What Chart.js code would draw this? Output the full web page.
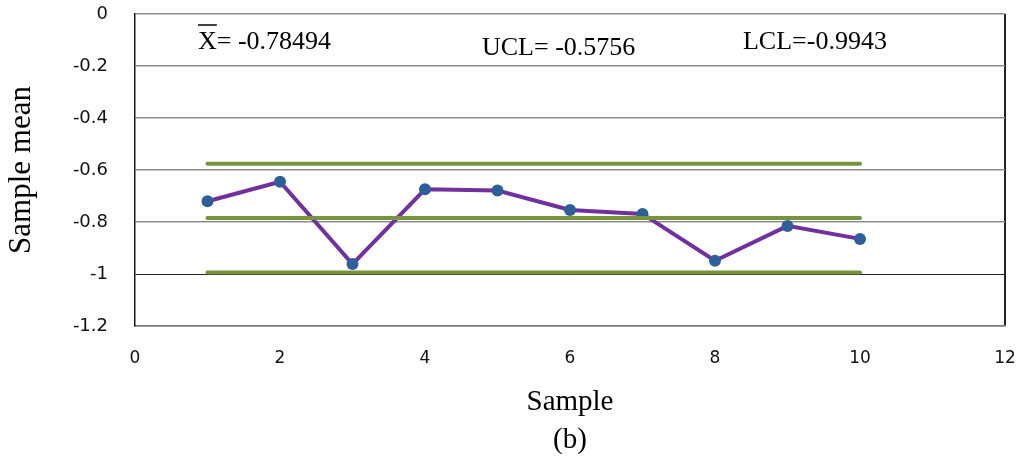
<!DOCTYPE html>
<html>
<head>
<meta charset="utf-8">
<script src="https://cdn.jsdelivr.net/npm/chart.js@4/dist/chart.umd.min.js"></script>
<style>
  html, body { margin: 0; padding: 0; background: #fff; }
  #wrap { width: 1024px; height: 459px; }
</style>
</head>
<body>
<div id="wrap"><canvas id="chart" width="1024" height="459"></canvas></div>
<script>
// X-bar control chart: sample means with centre line and control limits
const samples = [1, 2, 3, 4, 5, 6, 7, 8, 9, 10];
const sampleMeans = [-0.720, -0.645, -0.962, -0.674, -0.679, -0.754, -0.769, -0.949, -0.815, -0.865];
const centerLine = -0.78494;
const upperLimit = -0.5756;
const lowerLimit = -0.9943;
const xTicks = [0, 2, 4, 6, 8, 10, 12];
const yTicks = [0, -0.2, -0.4, -0.6, -0.8, -1, -1.2];

const first = samples[0];
const last = samples[samples.length - 1];
const limitLine = (v) => [{ x: first, y: v }, { x: last, y: v }];

const GREEN = '#77933C';
const PURPLE = '#7030A0';
const MARKER = '#2F5F98';

// Keep the axes from reserving extra room for tick-label overhang
const noScalePadding = (s) => {
  s.paddingTop = 0;
  s.paddingBottom = 0;
  s.paddingLeft = 0;
  s.paddingRight = 0;
};

// Text labels giving the centre line and limit values
const limitLabels = {
  id: 'limitLabels',
  afterDraw(chart) {
    const { ctx, scales: { x, y } } = chart;
    ctx.save();
    ctx.fillStyle = '#000';
    ctx.font = '26px "Liberation Serif"';
    ctx.textAlign = 'left';
    ctx.textBaseline = 'alphabetic';

    const xbX = x.getPixelForValue(0.869), xbY = y.getPixelForValue(-0.1346);
    ctx.fillText('X= ' + centerLine.toFixed(5), xbX, xbY);
    const wX = ctx.measureText('X').width;
    ctx.strokeStyle = '#000';
    ctx.lineWidth = 1.5;
    ctx.beginPath();
    ctx.moveTo(xbX, xbY - 24);
    ctx.lineTo(xbX + wX, xbY - 24);
    ctx.stroke();

    ctx.fillText('UCL= ' + upperLimit, x.getPixelForValue(4.786), y.getPixelForValue(-0.1577));
    ctx.fillText('LCL=' + lowerLimit, x.getPixelForValue(8.386), y.getPixelForValue(-0.1346));
    ctx.restore();
  }
};

new Chart(document.getElementById('chart'), {
  type: 'line',
  data: {
    datasets: [
      { label: 'UCL', data: limitLine(upperLimit), borderColor: GREEN, borderWidth: 4, pointRadius: 0, borderCapStyle: 'round' },
      { label: 'CL', data: limitLine(centerLine), borderColor: GREEN, borderWidth: 4, pointRadius: 0, borderCapStyle: 'round' },
      { label: 'LCL', data: limitLine(lowerLimit), borderColor: GREEN, borderWidth: 4, pointRadius: 0, borderCapStyle: 'round' },
      {
        label: 'Sample mean',
        data: samples.map((s, i) => ({ x: s, y: sampleMeans[i] })),
        borderColor: PURPLE,
        borderWidth: 4,
        tension: 0,
        pointRadius: 6,
        pointBackgroundColor: MARKER,
        pointBorderColor: MARKER,
        pointBorderWidth: 0
      }
    ]
  },
  options: {
    responsive: false,
    devicePixelRatio: 1,
    animation: false,
    events: [],
    layout: { padding: { left: 0, right: 19, top: 14, bottom: 0 } },
    plugins: { legend: { display: false }, tooltip: { enabled: false } },
    scales: {
      x: {
        type: 'linear',
        min: 0,
        max: 12,
        afterBuildTicks: (s) => { s.ticks = xTicks.map(v => ({ value: v })); },
        afterFit: (s) => { s.height = 133; noScalePadding(s); },
        ticks: {
          font: { family: '"DejaVu Sans"', size: 17 },
          color: '#111',
          padding: 22,
          maxRotation: 0
        },
        grid: {
          drawTicks: false,
          color: (c) => (c.tick && c.tick.value === 12 ? '#222' : 'rgba(0,0,0,0)'),
          lineWidth: 2
        },
        border: { color: '#7a7a7a', width: 1.5 },
        title: {
          display: true,
          text: ['Sample', '(b)'],
          color: '#000',
          font: { family: '"Liberation Serif"', size: 29, lineHeight: 38 / 29 },
          padding: { top: 0, bottom: 0 }
        }
      },
      y: {
        type: 'linear',
        min: -1.2,
        max: 0,
        afterBuildTicks: (s) => { s.ticks = yTicks.map(v => ({ value: v })); },
        afterFit: (s) => { s.width = 135; noScalePadding(s); },
        ticks: {
          font: { family: '"DejaVu Sans"', size: 18 },
          color: '#111',
          padding: 27,
          callback: (v) => String(Math.round(v * 10) / 10)
        },
        grid: {
          drawTicks: false,
          color: (c) => (c.tick && c.tick.value === -1 ? '#222' : '#8c8c8c'),
          lineWidth: (c) => (c.tick && c.tick.value === -1 ? 1 : 1.5)
        },
        border: { color: '#1a1a1a', width: 1.5 },
        title: {
          display: true,
          text: 'Sample mean',
          color: '#000',
          font: { family: '"Liberation Serif"', size: 31, lineHeight: 1 },
          padding: { top: 6, bottom: 0 }
        }
      }
    }
  },
  plugins: [limitLabels]
});
</script>
</body>
</html>
